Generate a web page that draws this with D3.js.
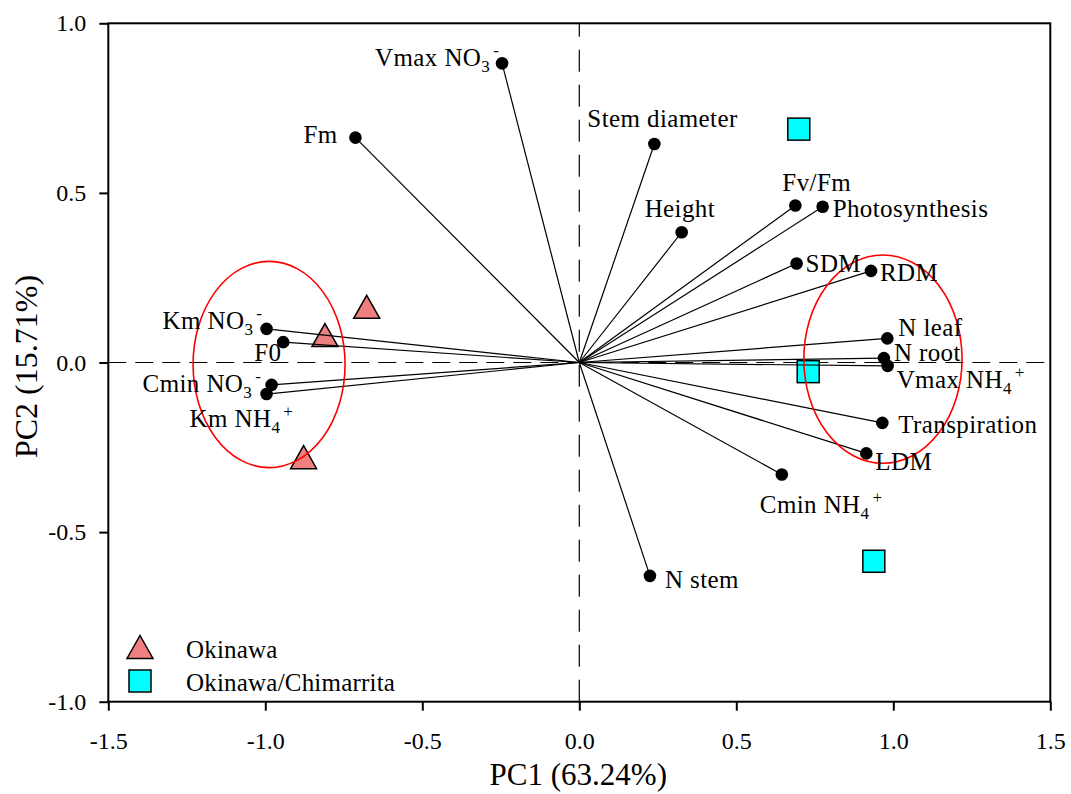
<!DOCTYPE html>
<html>
<head>
<meta charset="utf-8">
<script src="https://cdn.jsdelivr.net/npm/d3@7"></script>
<style>
  body { margin: 0; background: #fff; }
  svg text { font-family: "Liberation Serif", "Times New Roman", serif; fill: #000; }
</style>
</head>
<body>
<div id="biplot"></div>
<script>
// variable loadings, {} = subscript, [] = superscript
const varNames = ["Vmax NO{3}[-]", "Fm", "Stem diameter", "Fv/Fm", "Photosynthesis", "Height",
  "SDM", "RDM", "N leaf", "N root", "Vmax NH{4}[+]", "Transpiration", "LDM", "Cmin NH{4}[+]",
  "N stem", "Km NO{3}[-]", "F0", "Cmin NO{3}[-]", "Km NH{4}[+]"];
const varPC1 = [-0.246, -0.713, 0.239, 0.688, 0.775, 0.326, 0.692, 0.929, 0.981, 0.970, 0.982,
  0.965, 0.914, 0.645, 0.225, -0.996, -0.943, -0.980, -0.996];
const varPC2 = [0.882, 0.663, 0.644, 0.463, 0.459, 0.384, 0.292, 0.270, 0.071, 0.013, -0.010,
  -0.178, -0.268, -0.330, -0.629, 0.099, 0.060, -0.066, -0.093];

// sample scores
const groupNames = ["Okinawa", "Okinawa/Chimarrita"];
const okiPC1 = [-0.677, -0.810, -0.878];
const okiPC2 = [0.164, 0.081, -0.279];
const chiPC1 = [0.699, 0.729, 0.938];
const chiPC2 = [0.688, -0.027, -0.586];

// group ellipses
const ellCx = [-0.988, 0.967];
const ellCy = [-0.006, 0.010];
const ellRx = [0.242, 0.252];
const ellRy = [0.304, 0.307];

const xTicks = [-1.5, -1.0, -0.5, 0.0, 0.5, 1.0, 1.5];
const yTicks = [-1.0, -0.5, 0.0, 0.5, 1.0];

// label offsets from each point (px)
const labelOffset = [[-127, 3], [-52, 5], [-67, -17], [-13, -14], [10, 10], [-37, -15],
  [9, 9], [9, 10], [11, -2], [10, 3], [9, 22], [16, 10], [9, 17], [-22, 39],
  [15, 12], [-104, 0], [-29, 19], [-129, 7], [-77, 33]];

const W = 1071, H = 794;
const x = d3.scaleLinear().domain([-1.5, 1.5]).range([108.3, 1050.3]);
const y = d3.scaleLinear().domain([-1, 1]).range([701.7, 23.3]);
const fmt = d => d.toFixed(1);

const svg = d3.select("#biplot").append("svg")
  .attr("width", W).attr("height", H);

// zero reference lines
svg.append("line")
  .attr("x1", x(-1.5)).attr("x2", x(1.5)).attr("y1", y(0)).attr("y2", y(0))
  .attr("stroke", "#000").attr("stroke-width", 1.2).attr("stroke-dasharray", "18,9");
svg.append("line")
  .attr("x1", x(0)).attr("x2", x(0)).attr("y1", y(-1)).attr("y2", y(1))
  .attr("stroke", "#000").attr("stroke-width", 1.2).attr("stroke-dasharray", "22,13");

// sample markers
const triPath = "M0,-11.5L13,11.5L-13,11.5Z";
svg.selectAll(".oki").data(okiPC1).enter().append("path")
  .attr("class", "oki")
  .attr("d", triPath)
  .attr("transform", (d, i) => `translate(${x(d)},${y(okiPC2[i])})`)
  .attr("fill", "#f08080").attr("stroke", "#000").attr("stroke-width", 1.5);

svg.selectAll(".chi").data(chiPC1).enter().append("rect")
  .attr("class", "chi")
  .attr("x", d => x(d) - 11)
  .attr("y", (d, i) => y(chiPC2[i]) - 11)
  .attr("width", 22).attr("height", 22)
  .attr("fill", "#00ffff").attr("stroke", "#000").attr("stroke-width", 1.5);

// loading vectors
svg.selectAll(".vec").data(varPC1).enter().append("line")
  .attr("class", "vec")
  .attr("x1", x(0)).attr("y1", y(0))
  .attr("x2", d => x(d)).attr("y2", (d, i) => y(varPC2[i]))
  .attr("stroke", "#000").attr("stroke-width", 1.2);

svg.selectAll(".dot").data(varPC1).enter().append("circle")
  .attr("class", "dot")
  .attr("cx", d => x(d)).attr("cy", (d, i) => y(varPC2[i]))
  .attr("r", 6.3).attr("fill", "#000");

// ellipses
svg.selectAll(".ell").data(ellCx).enter().append("ellipse")
  .attr("class", "ell")
  .attr("cx", d => x(d)).attr("cy", (d, i) => y(ellCy[i]))
  .attr("rx", (d, i) => x(ellRx[i]) - x(0))
  .attr("ry", (d, i) => y(0) - y(ellRy[i]))
  .attr("fill", "none").attr("stroke", "#ff0000").attr("stroke-width", 1.6);

// labels with sub/superscripts
function addLabel(sel, str) {
  const parts = str.match(/\{[^}]*\}|\[[^\]]*\]|[^{[]+/g);
  parts.forEach(p => {
    if (p[0] === "{") {
      sel.append("tspan").attr("font-size", 17).attr("dy", 6).text(p.slice(1, -1));
    } else if (p[0] === "[") {
      sel.append("tspan").attr("font-size", 17).attr("dy", -16).attr("dx", 3).text(p.slice(1, -1));
    } else {
      sel.append("tspan").text(p);
    }
  });
}

svg.selectAll(".lab").data(varNames).enter().append("text")
  .attr("class", "lab")
  .attr("x", (d, i) => x(varPC1[i]) + labelOffset[i][0])
  .attr("y", (d, i) => y(varPC2[i]) + labelOffset[i][1])
  .attr("font-size", 25)
  .attr("letter-spacing", 0.4)
  .each(function (d) { addLabel(d3.select(this), d); });

// frame
svg.append("rect")
  .attr("x", x(-1.5)).attr("y", y(1))
  .attr("width", x(1.5) - x(-1.5)).attr("height", y(-1) - y(1))
  .attr("fill", "none").attr("stroke", "#000").attr("stroke-width", 2);

// axes
const xAxis = svg.append("g")
  .attr("transform", `translate(0,${y(-1)})`)
  .call(d3.axisBottom(x).tickValues(xTicks).tickFormat(fmt).tickSize(9).tickPadding(21));
const yAxis = svg.append("g")
  .attr("transform", `translate(${x(-1.5)},0)`)
  .call(d3.axisLeft(y).tickValues(yTicks).tickFormat(fmt).tickSize(9).tickPadding(13));
[xAxis, yAxis].forEach(g => {
  g.select(".domain").remove();
  g.selectAll("line").attr("stroke-width", 2);
  g.selectAll("text").attr("font-size", 24)
    .style("font-family", "'Liberation Serif', 'Times New Roman', serif");
});

// axis titles
svg.append("text")
  .attr("x", (x(-1.5) + x(1.5)) / 2 - 1).attr("y", 785)
  .attr("text-anchor", "middle").attr("font-size", 31)
  .text("PC1 (63.24%)");
svg.append("text")
  .attr("transform", `translate(37,${(y(1) + y(-1)) / 2 + 4}) rotate(-90)`)
  .attr("text-anchor", "middle").attr("font-size", 32)
  .text("PC2 (15.71%)");

// legend
const legend = svg.append("g").attr("transform", "translate(140,0)");
legend.append("path").attr("d", triPath)
  .attr("transform", "translate(0,647)")
  .attr("fill", "#f08080").attr("stroke", "#000").attr("stroke-width", 1.5);
legend.append("rect").attr("x", -11).attr("y", 670).attr("width", 22).attr("height", 22)
  .attr("fill", "#00ffff").attr("stroke", "#000").attr("stroke-width", 1.5);
legend.selectAll(".legtext").data(groupNames).enter().append("text")
  .attr("class", "legtext")
  .attr("x", 46).attr("y", (d, i) => 658 + i * 33)
  .attr("font-size", 25)
  .attr("letter-spacing", 0.2)
  .text(d => d);
</script>
</body>
</html>
